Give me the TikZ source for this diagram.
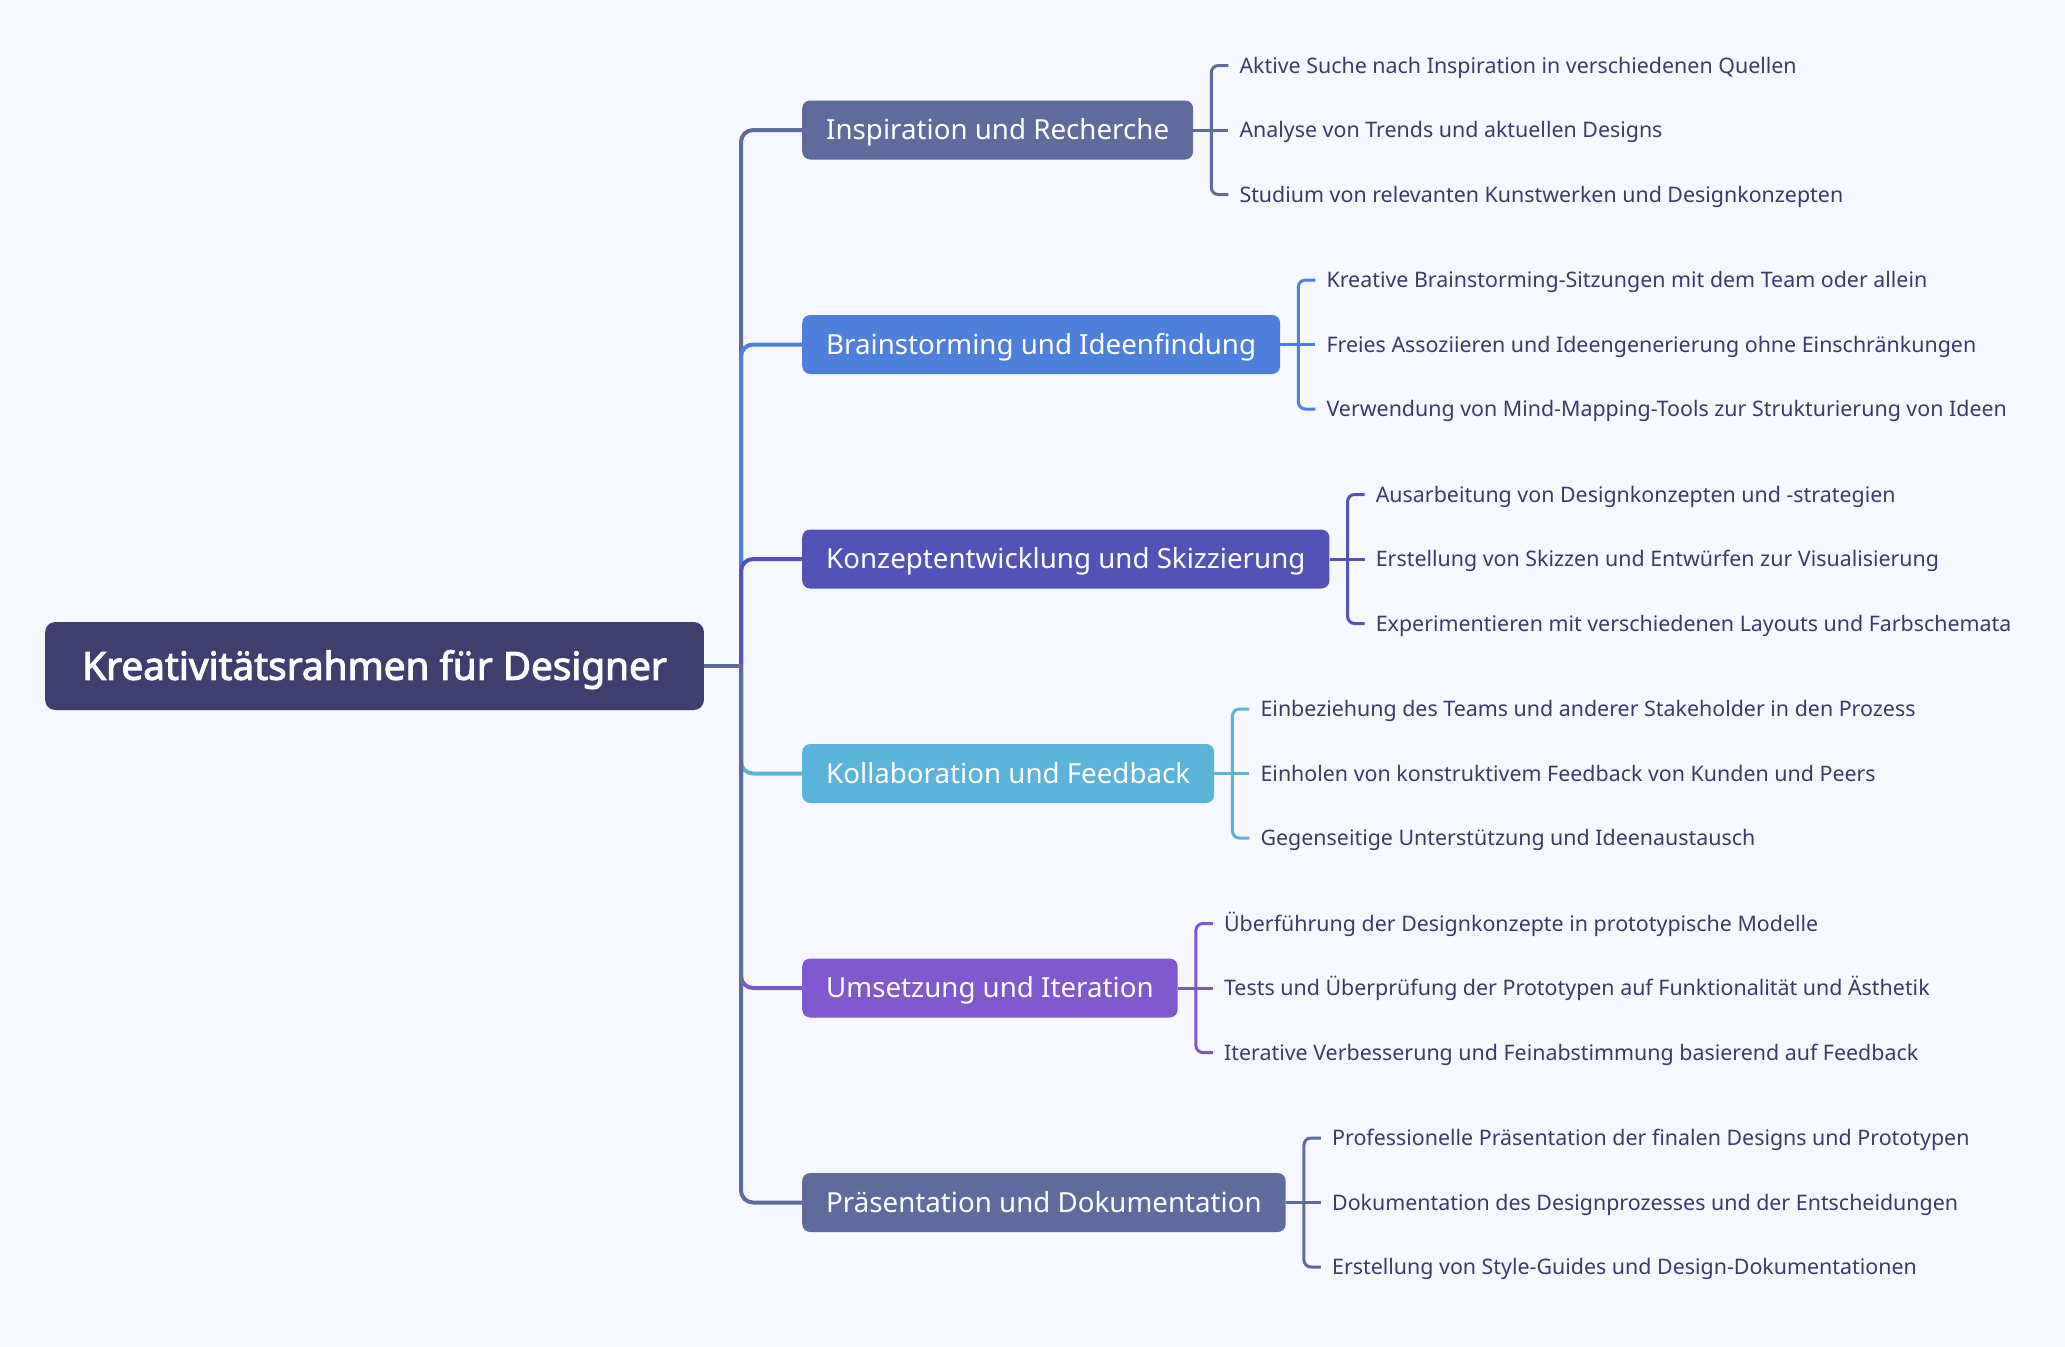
\documentclass[tikz,border=0pt]{standalone}
\usepackage{fontspec}
\setmainfont{Noto Sans}
\newfontfamily\rootfont{Noto Sans}[AutoFakeBold=2.6]
\usetikzlibrary{calc}
\definecolor{bg}{HTML}{F7F8FD}
\definecolor{rootc}{HTML}{403E6E}
\definecolor{cA}{HTML}{5E6B9C}
\definecolor{cB}{HTML}{4E7FDB}
\definecolor{cC}{HTML}{5352B6}
\definecolor{cD}{HTML}{5BB3D9}
\definecolor{cE}{HTML}{7E58CC}
\definecolor{leaftxt}{HTML}{3C3A6B}
\tikzset{
  rootbox/.style={fill=rootc, text=white, rounded corners=10pt, minimum height=88pt,
    inner xsep=37pt, inner ysep=0pt, font=\rootfont\fontsize{38.7}{44}\selectfont\bfseries,
    text height=27.5pt, text depth=0pt, anchor=west},
  branchbox/.style={fill=#1, text=white, rounded corners=8pt, minimum height=59pt,
    inner xsep=24pt, inner ysep=0pt, font=\fontsize{27.7}{32}\selectfont,
    text height=19.8pt, text depth=0pt, anchor=west},
  leaf/.style={text=leaftxt, inner xsep=11pt, inner ysep=0pt,
    font=\fontsize{21.4}{26}\selectfont, text height=15.3pt, text depth=0pt, anchor=west},
  trunk/.style={draw=#1, line width=4pt, rounded corners=12pt},
  twig/.style={draw=#1, line width=3pt, rounded corners=7pt},
}
\newcommand{\leaves}[5]{%
  \node[leaf] (#1l1) at ($(#1.east)+(35,-64.5)$) {#3};
  \node[leaf] (#1l2) at ($(#1.east)+(35,0)$) {#4};
  \node[leaf] (#1l3) at ($(#1.east)+(35,64.5)$) {#5};
  \coordinate (#1k) at ($(#1.east)+(18,0)$);
  \draw[twig=#2] (#1l1.west) -| (#1k) |- (#1l3.west);
  \draw[twig=#2] (#1.east) -- (#1l2.west);
}
\begin{document}
\begin{tikzpicture}[x=1pt,y=-1pt]
\fill[bg] (0,0) rectangle (2065,1347);
\useasboundingbox (0,0) rectangle (2065,1347);

\node[rootbox] (root) at (45,666) {Kreativitätsrahmen für Designer};
\coordinate (j) at (741,666);

\node[branchbox=cA] (b1) at (802,130) {Inspiration und Recherche};
\node[branchbox=cB] (b2) at (802,344.5) {Brainstorming und Ideenfindung};
\node[branchbox=cC] (b3) at (802,559) {Konzeptentwicklung und Skizzierung};
\node[branchbox=cD] (b4) at (802,773.5) {Kollaboration und Feedback};
\node[branchbox=cE] (b5) at (802,988) {Umsetzung und Iteration};
\node[branchbox=cA] (b6) at (802,1202.5) {Präsentation und Dokumentation};

\draw[trunk=cA] (j) |- (b1.west);
\draw[trunk=cB] (j) |- (b2.west);
\draw[trunk=cC] (j) |- (b3.west);
\draw[trunk=cD] (j) |- (b4.west);
\draw[trunk=cE] (j) |- (b5.west);
\draw[trunk=cA] (j) |- (b6.west);
\draw[trunk=cA] (root.east) -- ([xshift=2pt]j);

\leaves{b1}{cA}{Aktive Suche nach Inspiration in verschiedenen Quellen}{Analyse von Trends und aktuellen Designs}{Studium von relevanten Kunstwerken und Designkonzepten}
\leaves{b2}{cB}{Kreative Brainstorming-Sitzungen mit dem Team oder allein}{Freies Assoziieren und Ideengenerierung ohne Einschränkungen}{Verwendung von Mind-Mapping-Tools zur Strukturierung von Ideen}
\leaves{b3}{cC}{Ausarbeitung von Designkonzepten und -strategien}{Erstellung von Skizzen und Entwürfen zur Visualisierung}{Experimentieren mit verschiedenen Layouts und Farbschemata}
\leaves{b4}{cD}{Einbeziehung des Teams und anderer Stakeholder in den Prozess}{Einholen von konstruktivem Feedback von Kunden und Peers}{Gegenseitige Unterstützung und Ideenaustausch}
\leaves{b5}{cE}{Überführung der Designkonzepte in prototypische Modelle}{Tests und Überprüfung der Prototypen auf Funktionalität und Ästhetik}{Iterative Verbesserung und Feinabstimmung basierend auf Feedback}
\leaves{b6}{cA}{Professionelle Präsentation der finalen Designs und Prototypen}{Dokumentation des Designprozesses und der Entscheidungen}{Erstellung von Style-Guides und Design-Dokumentationen}
\end{tikzpicture}
\end{document}
